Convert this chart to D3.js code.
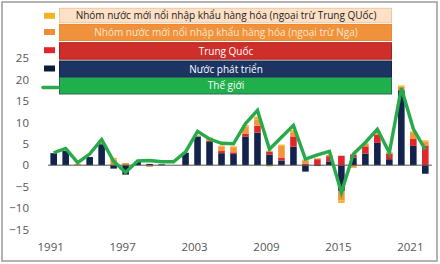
<!DOCTYPE html>
<html><head><meta charset="utf-8">
<script src="https://cdn.jsdelivr.net/npm/d3@7"></script>
<style>body{margin:0;background:#fff}svg{display:block}text{font-family:"Open Sans","Noto Sans",sans-serif}</style>
</head><body><svg id="c" width="440" height="264"></svg>
<script>
const years = d3.range(1991, 2023);
const developed = [2.8,3.3,0,1.9,4.9,-0.8,-2.2,0.8,0.3,0.2,0,2.9,6.7,5.4,2.8,2.6,6.7,7.6,2.5,1.1,4.3,-1.5,-0.2,0.9,-6.0,1.8,2.7,5.2,1.4,17.3,4.5,-2.0];
const china = [0,0,0,0,0,0,0,0,0,0,0,0,0,0.3,0.5,0.4,0.6,1.6,0.6,0.7,2.4,0.3,1.4,1.2,2.2,0.7,1.7,1.9,1.3,0.3,1.6,4.6];
const emExRussia = [0,0,0.3,0,0.3,1.3,0.5,0,-0.4,0,0,-0.2,0.2,0.6,1.1,1.2,1.7,1.5,0.3,2.7,1.0,0.8,0.2,0.3,-2.2,-0.6,0.6,0.6,0.3,0.7,1.4,0.9];
const emExChina = [0,0,0,0,0,0.4,0,0,0,0,0,0,0.1,0.2,0.2,0.2,0.4,0.6,-0.3,0.3,0.5,0.2,0,0,-0.6,0,0.2,0.2,0,0.3,0.4,0.3];
const world = [2.9,3.9,0.6,2.6,6.0,0.9,-1.7,1.0,1.1,0.8,0.8,3.1,7.9,6.1,5.1,5.0,9.7,12.8,3.7,6.5,9.3,1.4,2.4,3.2,-6.4,2.6,5.3,8.4,2.9,18.0,8.5,3.6];
const yTicks = [-15,-10,-5,0,5,10,15,20,25];
const xTickYears = [1991,1997,2003,2009,2015,2021];
const legendLabels = [
  "Nhóm nước mới nổi nhập khẩu hàng hóa (ngoại trừ Trung QUốc)",
  "Nhóm nước mới nổi nhập khẩu hàng hóa (ngoại trừ Nga)",
  "Trung Quốc",
  "Nước phát triển",
  "Thế giới"
];

const keys = ["developed","china","emExRussia","emExChina"];
const colors = {developed:"#13234b", china:"#e2262b", emExRussia:"#f3953a", emExChina:"#f8b12c"};
const table = years.map((y,i)=>({year:y, developed:developed[i], china:china[i], emExRussia:emExRussia[i], emExChina:emExChina[i]}));

const svg = d3.select("#c");
svg.append("rect").attr("x",2).attr("y",2).attr("width",435).attr("height",259)
  .attr("fill","#fff").attr("stroke","#9a9a9a").attr("stroke-width",1.5);

const x = d3.scaleBand().domain(years).range([48,431]).paddingInner(0.45).paddingOuter(0.2);
const y = d3.scaleLinear().domain([-15,25]).range([229.5,58]);

const series = d3.stack().keys(keys).offset(d3.stackOffsetDiverging)(table);
svg.append("g").selectAll("g").data(series).join("g").attr("fill",d=>colors[d.key])
  .selectAll("rect").data(d=>d).join("rect")
  .attr("x",d=>x(d.data.year)).attr("width",x.bandwidth())
  .attr("y",d=>y(Math.max(d[0],d[1]))).attr("height",d=>Math.abs(y(d[0])-y(d[1])));

svg.append("line").attr("x1",48).attr("x2",432).attr("y1",y(0)).attr("y2",y(0))
  .attr("stroke","#555").attr("stroke-width",1);

const line = d3.line().x((d,i)=>x(years[i])+x.bandwidth()/2).y(d=>y(d));
svg.append("path").datum(world).attr("d",line).attr("fill","none")
  .attr("stroke","#26aa4a").attr("stroke-width",3.4).attr("stroke-linejoin","miter");

// y axis
const ya = svg.append("g").attr("transform","translate(29,0)")
  .call(d3.axisLeft(y).tickValues(yTicks).tickSize(0).tickPadding(0).tickFormat(d3.format("d")));
ya.select(".domain").remove();
ya.selectAll("text").attr("font-size",11.5).attr("fill","#555").attr("font-family",'"Open Sans",sans-serif');

// x axis
const xa = svg.append("g").attr("transform","translate(-3,243)")
  .call(d3.axisBottom(x).tickValues(xTickYears).tickSize(0).tickPadding(0));
xa.select(".domain").remove();
xa.selectAll("text").attr("font-size",11.5).attr("fill","#555").attr("font-family",'"Open Sans",sans-serif');

// legend
const leg = [
  {fill:"#fde0c6", stroke:"#f3c79d", text:"#222", marker:"#f5b324", y:8.3, h:14.5},
  {fill:"#f0913b", stroke:"#ec8a34", text:"#fde6cc", marker:"#ef8b39", y:24.5, h:16},
  {fill:"#cf2f2a", stroke:"#a8211f", text:"#fff", marker:"#e2262b", y:42.7, h:16.5},
  {fill:"#1c3461", stroke:"#12264a", text:"#fff", marker:"#0e1c3a", y:61, h:16.3},
  {fill:"#1faf4b", stroke:"#2b6b5a", text:"#fff", marker:"#26aa4a", y:77.5, h:16.5}
];
const lg = svg.append("g");
leg.forEach((l,i)=>{
  lg.append("rect").attr("x",59.5).attr("y",l.y).attr("width",332).attr("height",l.h)
    .attr("fill",l.fill).attr("stroke",l.stroke).attr("stroke-width",1);
  lg.append("text").attr("x",226).attr("y",l.y+l.h/2).attr("dy","0.36em").attr("text-anchor","middle")
    .attr("font-size",10).attr("fill",l.text).text(legendLabels[i]);
  if(i<4){
    lg.append("rect").attr("x",44).attr("y",l.y+4.5).attr("width",11).attr("height",6).attr("fill",l.marker);
  } else {
    lg.append("line").attr("x1",43).attr("x2",58).attr("y1",87.5).attr("y2",87.5)
      .attr("stroke",l.marker).attr("stroke-width",3.5).attr("stroke-linecap","round");
  }
});
</script></body></html>
